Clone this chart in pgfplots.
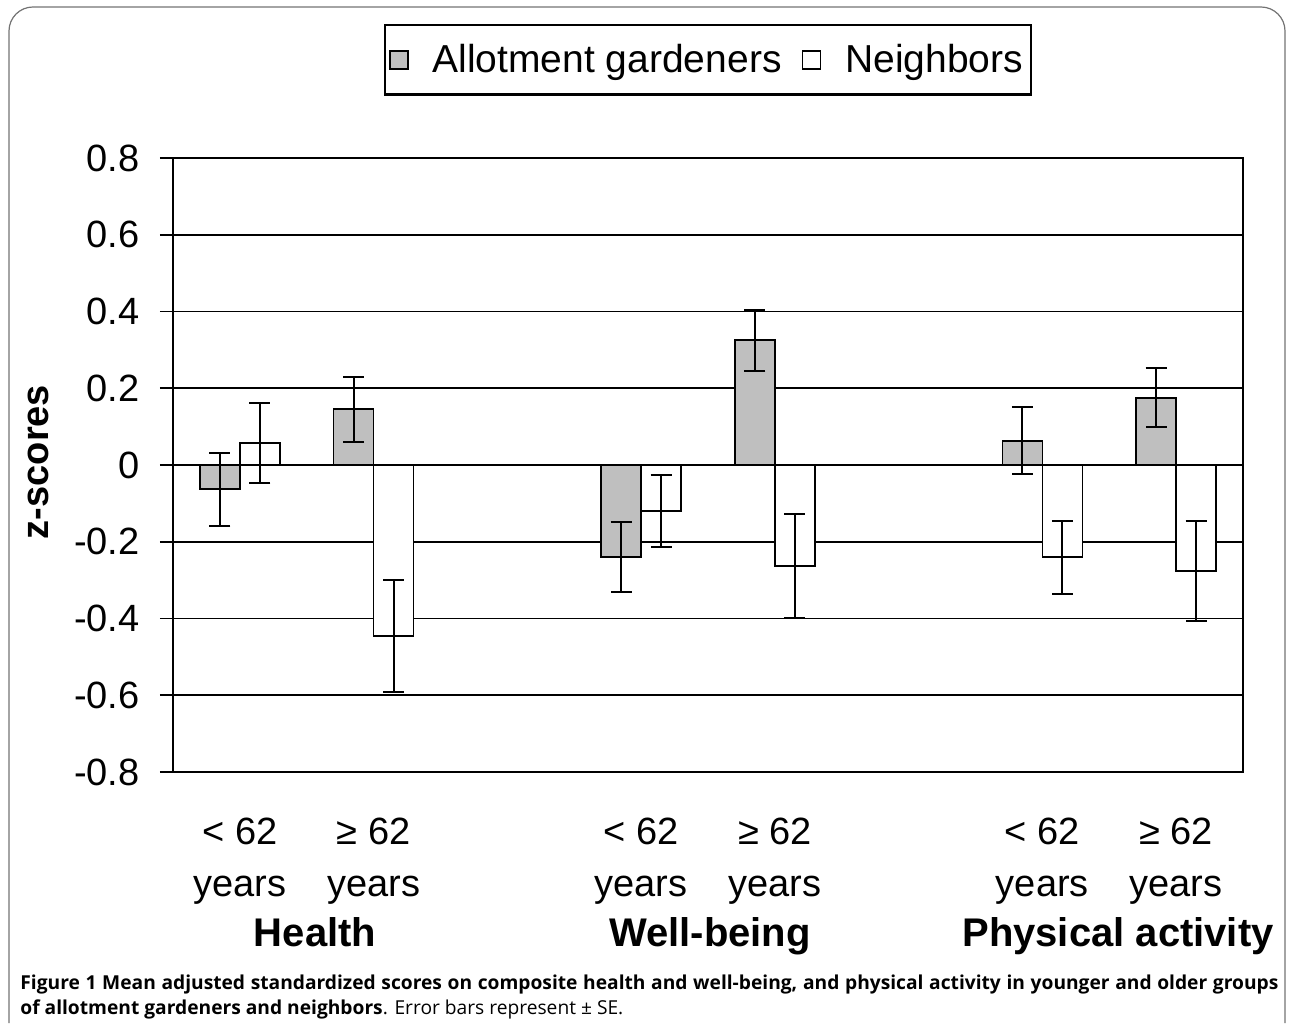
\documentclass[border=0pt]{standalone}
\usepackage{pgfplots}
\pgfplotsset{compat=1.18}
\usepackage{pgfplotstable}
\usepackage{fontspec}
\setmainfont{Liberation Sans}
\newfontfamily\capfont{Open Sans}

\pgfplotsset{sqlegend/.style={legend image code/.code={\draw[##1, line width=0.85pt] (0pt,-4.5pt) rectangle (9pt,4.5pt);}}}

\pgfplotstableread{
x g ge n ne
0 -0.063 0.095 0.057 0.105
1 0.145 0.085 -0.445 0.146
3 -0.240 0.092 -0.120 0.095
4 0.325 0.080 -0.263 0.135
6 0.063 0.087 -0.240 0.095
7 0.175 0.077 -0.276 0.130
}\data

\begin{document}
\begin{tikzpicture}
\begin{scope}[x=0.5pt,y=0.5pt]
\path[use as bounding box] (0,0) rectangle (1290,1023);
\draw[black!55, line width=0.6pt, rounded corners=12] (9,0) -- (9,1016) -- (1285,1016) -- (1285,0);
\end{scope}
\begin{axis}[
  at={(86.5pt,125.5pt)}, anchor=south west,
  width=535pt, height=307pt, scale only axis,
  xmin=-0.5, xmax=7.5, ymin=-0.8, ymax=0.8,
  clip=false,
  ybar=0pt, bar width=20pt,
  ytick={-0.8,-0.6,-0.4,-0.2,0,0.2,0.4,0.6,0.8},
  yticklabels={-0.8,-0.6,-0.4,-0.2,0,0.2,0.4,0.6,0.8},
  ymajorgrids, grid style={black, line width=0.85pt},
  axis line style={black, line width=1.3pt},
  ytick pos=left, tick align=outside, major tick length=6.5pt,
  ytick style={black, line width=0.85pt},
  yticklabel style={inner sep=0pt, xshift=-10pt, font=\fontsize{19}{19}\selectfont},
  xtick={0,1,3,4,6,7},
  xticklabels={{< 62\\years},{≥ 62\\years},{< 62\\years},{≥ 62\\years},{< 62\\years},{≥ 62\\years}},
  xtick style={draw=none},
  xticklabel style={align=center, inner sep=0pt, yshift=-16.5pt, font=\fontsize{19}{26}\selectfont},
  legend columns=2,
  legend style={at={(0.5,1.16)}, anchor=center, draw=black, line width=1.3pt,
    font=\fontsize{19.5}{20}\selectfont, inner xsep=2pt, inner ysep=7.5pt,
    /tikz/every odd column/.append style={column sep=10pt},
    /tikz/every even column/.append style={column sep=8pt}},
]
\addplot[fill=black!25, draw=black, line width=0.85pt, sqlegend,
  error bars/.cd, y dir=both, y explicit,
  error bar style={line width=1pt, black},
  error mark options={rotate=90, line width=1pt, mark size=5.25pt, black}]
  table[x=x, y=g, y error=ge] {\data};
\addplot[fill=white, draw=black, line width=0.85pt, sqlegend,
  error bars/.cd, y dir=both, y explicit,
  error bar style={line width=1pt, black},
  error mark options={rotate=90, line width=1pt, mark size=5.25pt, black}]
  table[x=x, y=n, y error=ne] {\data};
\legend{Allotment gardeners, Neighbors}
\end{axis}
\begin{scope}[x=0.5pt,y=0.5pt]
\node[font=\bfseries\fontsize{20}{20}\selectfont, anchor=base] at (315,77) {Health};
\node[font=\bfseries\fontsize{20}{20}\selectfont, anchor=base] at (710,77) {Well-being};
\node[font=\bfseries\fontsize{20}{20}\selectfont, anchor=base] at (1118,77) {Physical activity};
\node[font=\bfseries\fontsize{19}{19}\selectfont, rotate=90] at (38,561) {z-scores};
\node[anchor=north west, text width=629pt, inner sep=0pt, align=justify,
  font=\capfont\fontsize{9.6}{12.5}\selectfont] at (20,48)
  {{\bfseries Figure 1 Mean adjusted standardized scores on composite health and well-being, and physical activity in younger and older groups\linebreak of allotment gardeners and neighbors}. Error bars represent ± SE.};
\end{scope}
\end{tikzpicture}
\end{document}
